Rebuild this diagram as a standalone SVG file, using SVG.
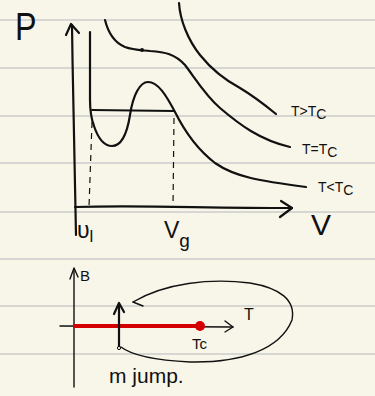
<svg xmlns="http://www.w3.org/2000/svg" width="375" height="396" viewBox="0 0 375 396">
<style>
.rule{stroke:#d6d6d3;stroke-width:2}
.ink{fill:none;stroke:#111;stroke-width:2.2;stroke-linecap:round;stroke-linejoin:round}
.thin{fill:none;stroke:#111;stroke-width:1.4;stroke-linecap:round;stroke-linejoin:round}
.dash{fill:none;stroke:#111;stroke-width:1.2;stroke-dasharray:6 5}
.t{font-family:"Liberation Sans","DejaVu Sans",sans-serif;fill:#111}
</style>
<rect width="375" height="396" fill="#f8f6e9"/>
<g id="paper-lines">
<line class="rule" x1="0" y1="20" x2="375" y2="20"/>
<line class="rule" x1="0" y1="68" x2="375" y2="68"/>
<line class="rule" x1="0" y1="116" x2="375" y2="116"/>
<line class="rule" x1="0" y1="163" x2="375" y2="163"/>
<line class="rule" x1="0" y1="212" x2="375" y2="212"/>
<line class="rule" x1="0" y1="259" x2="375" y2="259"/>
<line class="rule" x1="0" y1="306" x2="375" y2="306"/>
<line class="rule" x1="0" y1="354" x2="375" y2="354"/>
</g>
<g id="pv-axes">
<path class="ink" d="M76,235 C75,180 73,100 72,25"/>
<path class="ink" d="M66,35 L71,24 L79,33"/>
<path class="ink" d="M75,207 C140,205 200,208 292,208"/>
<path class="ink" d="M281,201 L292,208 L280,217"/>
<text class="t" x="15" y="40" font-size="38" transform="translate(15 40) scale(0.85 1) translate(-15 -40)">P</text>
<text class="t" x="311" y="235" font-size="30">V</text>
<text class="t" x="77" y="238" font-size="23">υ<tspan font-size="17" dy="4">l</tspan></text>
<text class="t" x="164" y="238" font-size="23">V<tspan font-size="19" dy="9">g</tspan></text>
</g>
<g id="isotherm-high">
<path class="ink" stroke-width="1.8" d="M179,3 C180,20 188,40 200,55 C212,70 225,80 240,88 C255,97 265,105 276,114"/>
<text class="t" x="291" y="116" font-size="14">T&gt;T<tspan dy="3">C</tspan></text>
</g>
<g id="isotherm-critical">
<path class="ink" d="M105,20 C108,32 113,42 125,47 C133,50 140,50 150,51 C165,52 175,54 185,65 C195,78 205,95 220,108 C240,125 260,140 290,147"/>
<circle cx="142" cy="50" r="2" fill="#111"/>
<text class="t" x="302" y="154" font-size="14">T=T<tspan dy="3">C</tspan></text>
</g>
<g id="isotherm-low">
<path class="ink" stroke-width="2.5" d="M90,32 L90,100 C90,112 91,118 94,126 C98,138 104,146 112,146 C122,146 127,134 130,115 C133,95 140,82 148,82 C158,82 166,95 175,112 C185,132 198,150 215,163 C235,177 260,181 306,187"/>
<path class="ink" stroke-width="2.5" d="M92,110 L174,111"/>
<text class="t" x="318" y="192" font-size="14">T&lt;T<tspan dy="3">C</tspan></text>
</g>
<g id="connectors">
<path class="dash" d="M92,122 L89,207"/>
<path class="dash" d="M174,118 L173,207"/>
</g>
<g id="phase-diagram">
<path class="thin" d="M74,387 L74,269"/>
<path class="thin" d="M70,279 L74,268 L78,277"/>
<text class="t" x="80" y="281" font-size="15">B</text>
<path class="thin" d="M60,326 L233,327"/>
<path class="thin" d="M225,321 L233,327 L225,332"/>
<text class="t" x="244" y="320" font-size="16">T</text>
<path d="M73,326 L200,326" stroke="#d40000" stroke-width="4"/>
<circle cx="200" cy="326" r="5" fill="#d40000"/>
<text class="t" x="192" y="349" font-size="15">Tc</text>
</g>
<g id="jump-arrow">
<path class="ink" stroke-width="3" d="M119,347 L119,304"/>
<path class="ink" stroke-width="3" d="M114,314 L119,303 L124,312"/>
<circle cx="119" cy="348" r="1.6" fill="#f8f6e9" stroke="#111" stroke-width="1"/>
<text class="t" x="109" y="383" font-size="21">m jump.</text>
</g>
<g id="loop">
<path class="thin" d="M121,347 C130,354 150,360 190,362 C240,363 280,350 292,320 C296,300 280,288 250,283 C210,278 165,283 133,302"/>
<path class="thin" d="M133,302 L143,306"/>
</g>
</svg>
